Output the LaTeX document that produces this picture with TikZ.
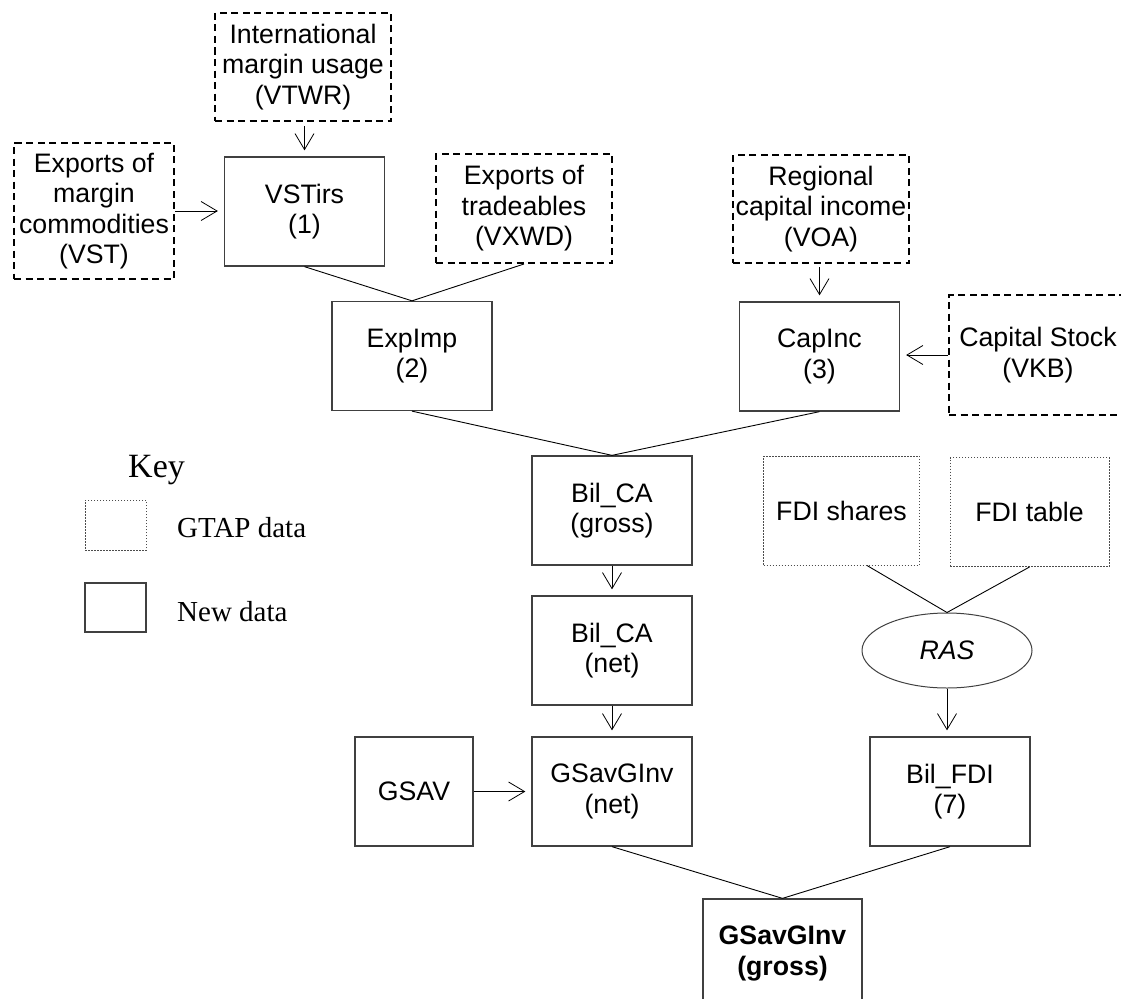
\documentclass[tikz,border=0pt]{standalone}
\usepackage{fontspec}
\setmainfont{Liberation Sans}
\newfontfamily\keyfont{Liberation Serif}
\usetikzlibrary{arrows.meta,shapes.geometric}
\begin{document}
\begin{tikzpicture}[x=1pt,y=1pt,
 every node/.style={font=\fontsize{26.7}{30.5}\selectfont, align=center, inner sep=0pt},
 newbox/.style={draw=black!75, line width=1.3pt, minimum width=160pt, minimum height=109pt},
 gtapbox/.style={draw=black, line width=2pt, dash pattern=on 7pt off 4.5pt, minimum width=176pt, minimum height=108pt},
 dotbox/.style={draw=black!70, line width=1pt, dash pattern=on 1.5pt off 1.5pt, minimum width=156pt, minimum height=109pt},
 keytext/.style={anchor=base west, font=\keyfont\fontsize{29}{34}\selectfont},
 link/.style={line width=0.9pt},
 arr/.style={line width=0.8pt, -{Straight Barb[length=16pt,width=19pt]}, shorten >=6pt}]
\useasboundingbox (0,0) rectangle (1121,-998);
\node[gtapbox] (vtwr) at (303,-67) {International\\margin usage\\(VTWR)};
\node[gtapbox, minimum width=160pt, minimum height=136pt] (vst) at (94,-211) {Exports of\\margin\\commodities\\(VST)};
\node[newbox] (vstirs) at (304.5,-211.5) {VSTirs\\(1)};
\node[gtapbox, minimum height=109pt] (vxwd) at (524,-208.5) {Exports of\\tradeables\\(VXWD)};
\node[gtapbox] (voa) at (821,-209) {Regional\\capital income\\(VOA)};
\node[newbox] (expimp) at (412,-356) {ExpImp\\(2)};
\node[newbox] (capinc) at (819.5,-356.5) {CapInc\\(3)};
\node[gtapbox, minimum width=178pt, minimum height=120pt] (vkb) at (1038,-355) {Capital Stock\\(VKB)};
\node[newbox] (bcag) at (612,-510.5) {Bil\_CA\\(gross)};
\node[dotbox] (fdis) at (841.5,-510.5) {FDI shares};
\node[dotbox, minimum width=159pt] (fdit) at (1029.5,-512) {FDI table};
\node[ellipse, draw=black!75, line width=1pt, minimum width=170pt, minimum height=75pt] (ras) at (947,-650.5) {\itshape RAS};
\node[newbox] (bcan) at (612,-650.5) {Bil\_CA\\(net)};
\node[newbox, minimum width=118pt] (gsav) at (414,-791.5) {GSAV};
\node[newbox] (gnet) at (612,-791.5) {GSavGInv\\(net)};
\node[newbox] (bfdi) at (950,-791.5) {Bil\_FDI\\(7)};
\node[newbox, minimum width=159pt, font=\fontsize{26.7}{30.5}\selectfont\bfseries] (ggross) at (782.5,-953.5) {GSavGInv\\(gross)};
% key
\node[anchor=base west, font=\keyfont\fontsize{34}{40}\selectfont] (key) at (128,-477) {Key};
\node[draw=black!70, line width=1pt, dash pattern=on 1.5pt off 1.5pt, minimum width=61pt, minimum height=50pt] (kg) at (115.5,-525) {};
\node[keytext] (kgt) at (177,-537) {GTAP data};
\node[newbox, minimum width=61pt, minimum height=49pt] (kn) at (115.5,-607.5) {};
\node[keytext] (knt) at (177,-621) {New data};
% connectors
\draw[arr, shorten <=4pt] (vstirs.north |- vtwr.south) -- (vstirs.north);
\draw[arr] (vst.east) -- (vst.east -| vstirs.west);
\draw[link] (vstirs.south) -- (expimp.north);
\draw[link] (vxwd.south) -- (expimp.north);
\draw[arr, shorten <=3pt] (capinc.north |- voa.south) -- (capinc.north);
\draw[arr] (vkb.west) -- (vkb.west -| capinc.east);
\draw[link] (expimp.south) -- (bcag.north);
\draw[link] (capinc.south) -- (bcag.north);
\draw[arr] (bcag.south) -- (bcan.north);
\draw[arr] (bcan.south) -- (gnet.north);
\draw[arr] (gsav.east) -- (gnet.west);
\draw[link] ([xshift=25.5pt]fdis.south) -- (ras.north);
\draw[link] (fdit.south) -- (ras.north);
\draw[arr] (ras.south) -- (ras.south |- bfdi.north);
\draw[link] (gnet.south) -- (ggross.north);
\draw[link] (bfdi.south) -- (ggross.north);
\end{tikzpicture}
\end{document}
